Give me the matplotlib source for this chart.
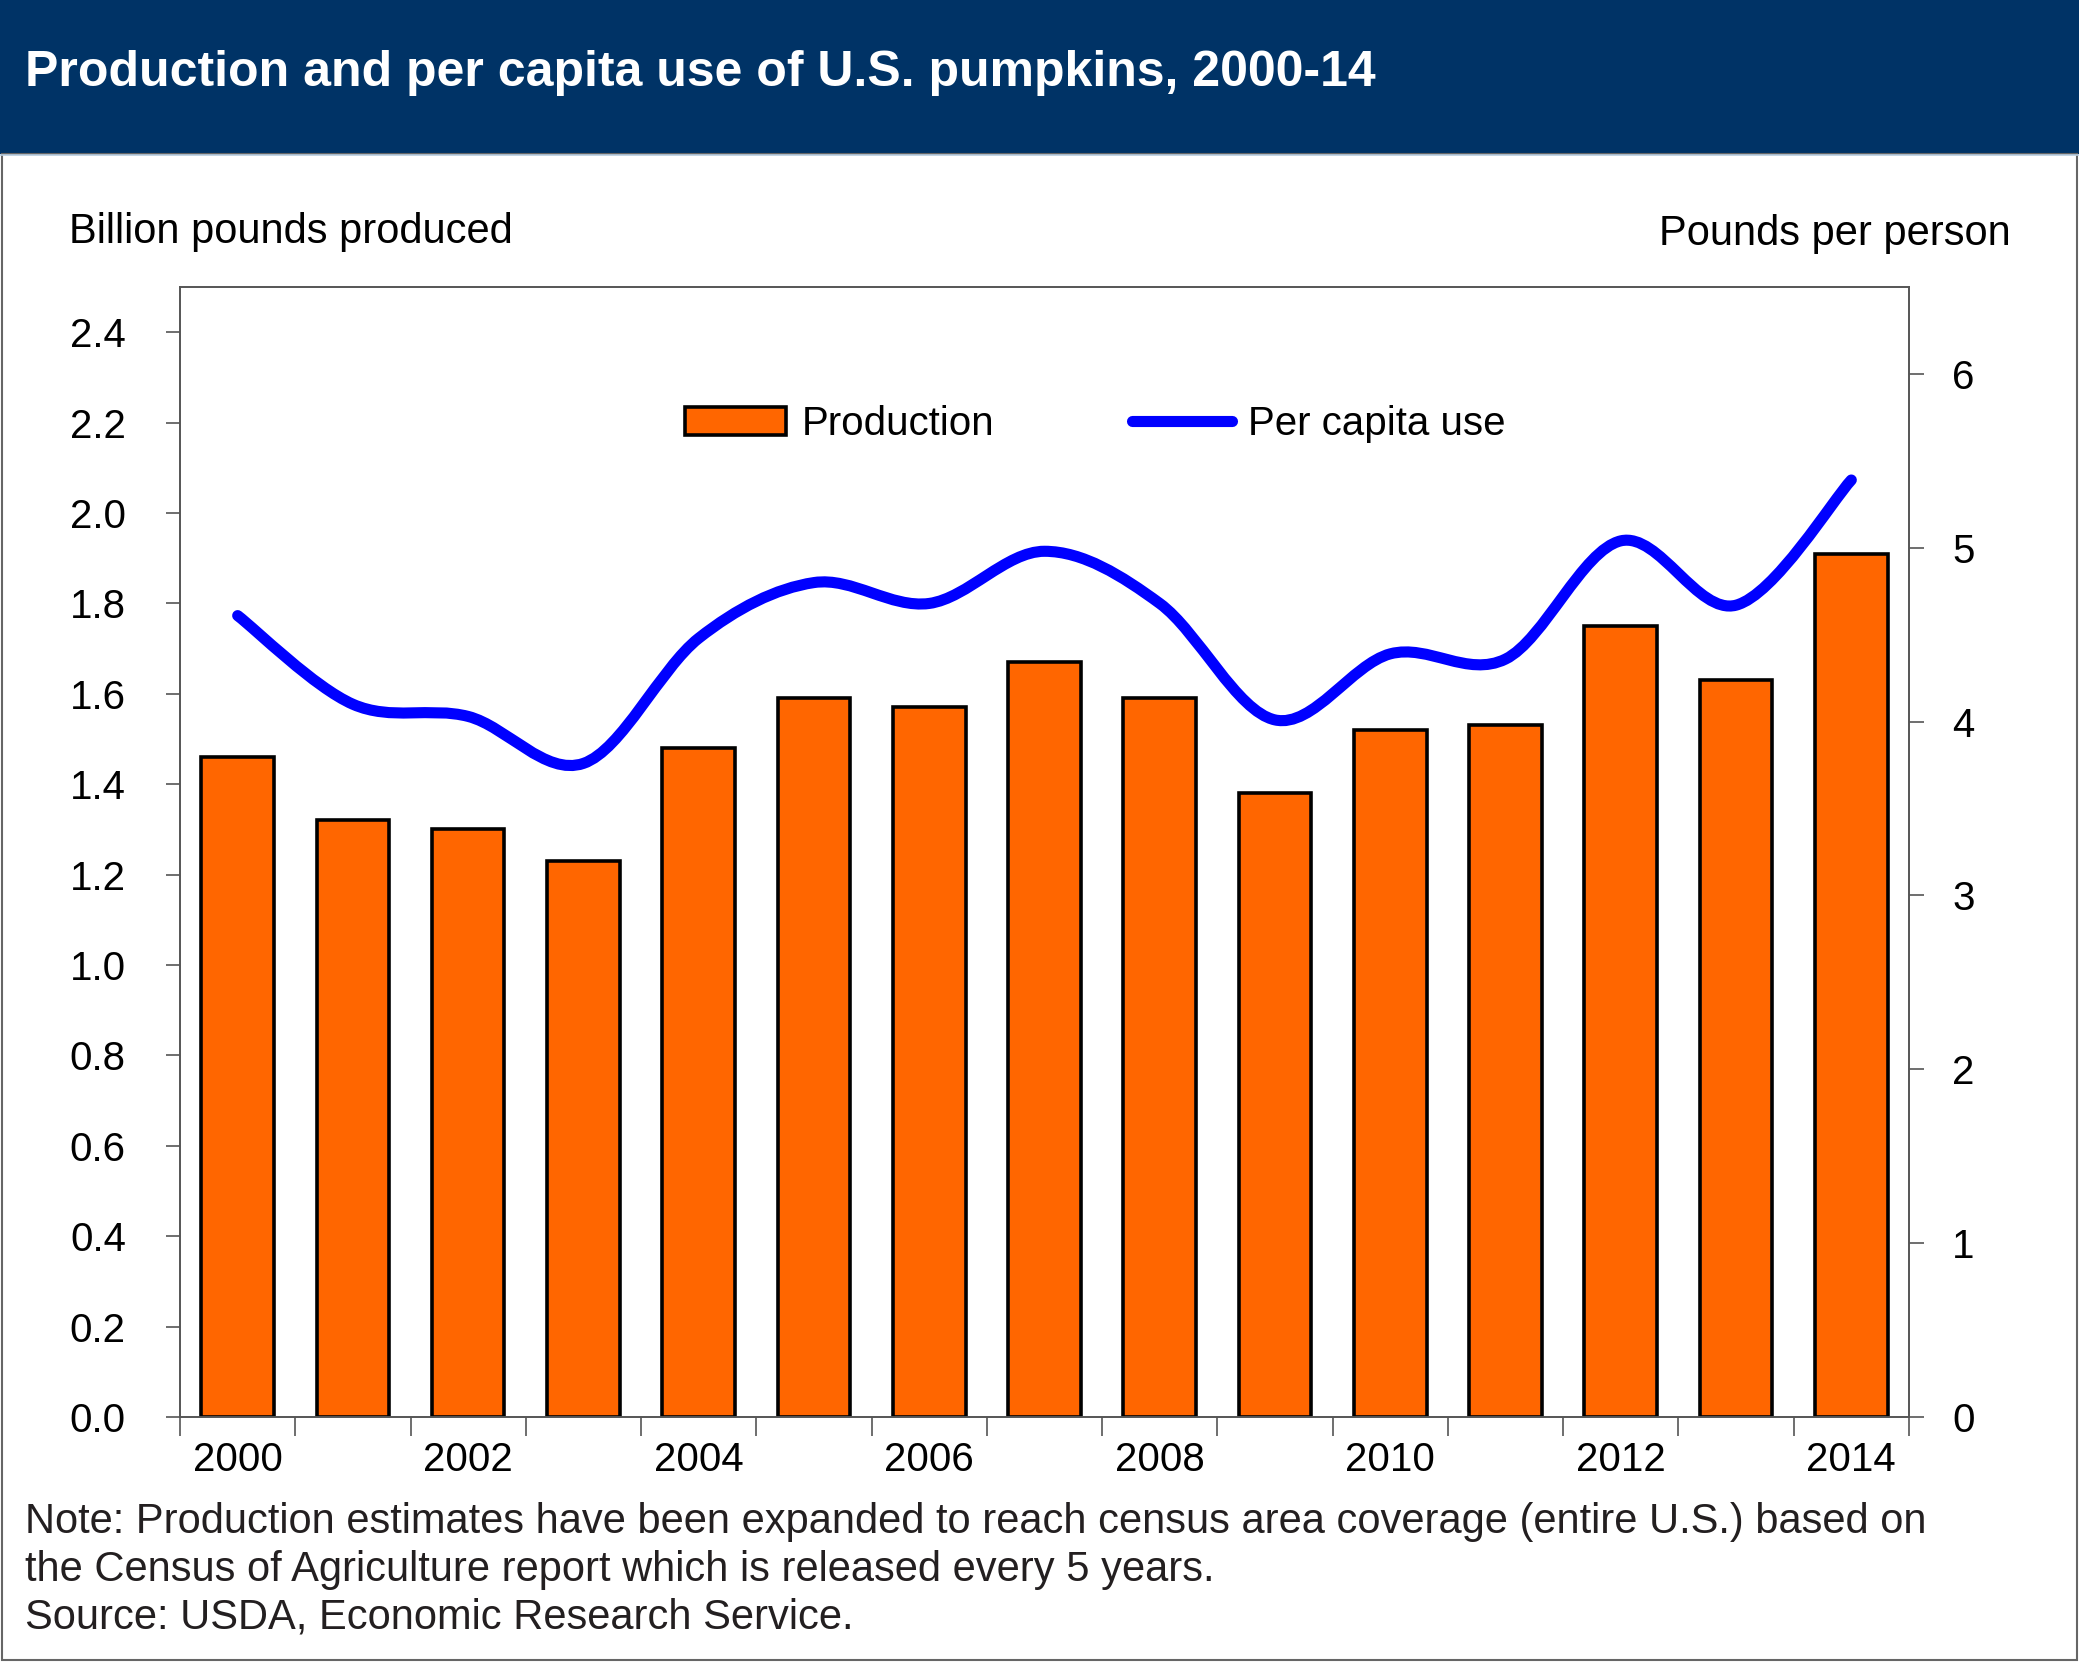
import numpy as np
import matplotlib
matplotlib.use("Agg")
import matplotlib.pyplot as plt
from matplotlib.path import Path
from matplotlib.patches import PathPatch, Patch, Rectangle
from matplotlib.lines import Line2D

plt.rcParams['font.family'] = ['Liberation Sans', 'DejaVu Sans']

years = list(range(2000, 2015))
production = [1.46, 1.32, 1.30, 1.23, 1.48, 1.59, 1.57, 1.67, 1.59, 1.38, 1.52, 1.53, 1.75, 1.63, 1.91]
per_capita = [4.61, 4.10, 4.03, 3.76, 4.48, 4.80, 4.68, 4.98, 4.68, 4.01, 4.39, 4.36, 5.04, 4.67, 5.39]
year_labels = ['2000', '2002', '2004', '2006', '2008', '2010', '2012', '2014']
left_ticks = [0.0, 0.2, 0.4, 0.6, 0.8, 1.0, 1.2, 1.4, 1.6, 1.8, 2.0, 2.2, 2.4]
right_ticks = [0, 1, 2, 3, 4, 5, 6]

title = 'Production and per capita use of U.S. pumpkins, 2000-14'
note_lines = [
    'Note: Production estimates have been expanded to reach census area coverage (entire U.S.) based on',
    'the Census of Agriculture report which is released every 5 years.',
    'Source: USDA, Economic Research Service.',
]

orange = '#FF6600'
blue = '#0000FF'
navy = '#003366'
spine_c = '#555555'

fig = plt.figure(figsize=(20.79, 16.63), dpi=100)

# header band + frame
fig.patches.append(Rectangle((0, 0.9074), 1, 0.0926, transform=fig.transFigure,
                             facecolor=navy, edgecolor='none', zorder=0))
fig.patches.append(Rectangle((0.0012, 0.0018), 0.9976, 0.9056, transform=fig.transFigure,
                             facecolor='none', edgecolor='#666666', lw=1.5, zorder=0))
fig.lines.append(Line2D([0, 1], [0.9068, 0.9068], transform=fig.transFigure,
                        color='#b8cde0', lw=1.2))
fig.text(0.0118, 0.9564, title, color='white', fontsize=36, fontweight='bold',
         va='center', ha='left')

ax = fig.add_axes([0.0866, 0.1479, 0.9182 - 0.0866, 0.8274 - 0.1479])
ax.bar(years, production, width=0.63, color=orange, edgecolor='black', linewidth=2.6, zorder=2)
ax.set_xlim(1999.5, 2014.5)
ax.set_ylim(0, 2.5)
ax.set_yticks(left_ticks)
ax.set_yticklabels(['%.1f' % v for v in left_ticks])
ax.set_xticks([int(y) for y in year_labels])
ax.set_xticklabels(year_labels)
ax.set_xticks(np.arange(1999.5, 2015, 1.0), minor=True)
ax.tick_params(axis='x', which='major', length=0, pad=17, labelsize=29)
ax.tick_params(axis='x', which='minor', length=14, width=1.2, color=spine_c, direction='out')
ax.tick_params(axis='y', length=10, width=1.2, color=spine_c, pad=29, labelsize=29)
for s in ax.spines.values():
    s.set_color(spine_c)
    s.set_linewidth(1.2)

ax2 = ax.twinx()
ax2.set_ylim(0, 6.5)
ax2.set_yticks(right_ticks)
ax2.tick_params(axis='y', length=11, width=1.2, color=spine_c, pad=20, labelsize=29)
for s in ax2.spines.values():
    s.set_color(spine_c)
    s.set_linewidth(1.2)

# smooth line through the per capita points (Catmull-Rom as Bezier segments)
pts = np.column_stack([years, per_capita]).astype(float)
n = len(pts)
verts = [tuple(pts[0])]
codes = [Path.MOVETO]
for i in range(n - 1):
    p0 = pts[max(i - 1, 0)]
    p1 = pts[i]
    p2 = pts[i + 1]
    p3 = pts[min(i + 2, n - 1)]
    c1 = p1 + (p2 - p0) / 6.0
    c2 = p2 - (p3 - p1) / 6.0
    verts += [tuple(c1), tuple(c2), tuple(p2)]
    codes += [Path.CURVE4] * 3
ax2.add_patch(PathPatch(Path(verts, codes), fill=False, edgecolor=blue, lw=8,
                        capstyle='round', joinstyle='round', zorder=3))

handles = [Patch(facecolor=orange, edgecolor='black', linewidth=2.6),
           Line2D([0], [0], color=blue, lw=8, solid_capstyle='round')]
fig.legend(handles, ['Production', 'Per capita use'], loc='center',
           bbox_to_anchor=(0.527, 0.745), ncol=2, frameon=False, fontsize=29,
           handlelength=2.5, handletextpad=0.4, columnspacing=3.4)

fig.text(0.0332, 1 - 243 / 1663, 'Billion pounds produced', fontsize=30, va='baseline', ha='left')
fig.text(0.9673, 1 - 245 / 1663, 'Pounds per person', fontsize=30, va='baseline', ha='right')

for i, line in enumerate(note_lines):
    fig.text(0.0118, 1 - (1533 + 47.5 * i) / 1663, line, fontsize=30, color='#231f20',
             va='baseline', ha='left')

fig.savefig('out.png', dpi=100)
